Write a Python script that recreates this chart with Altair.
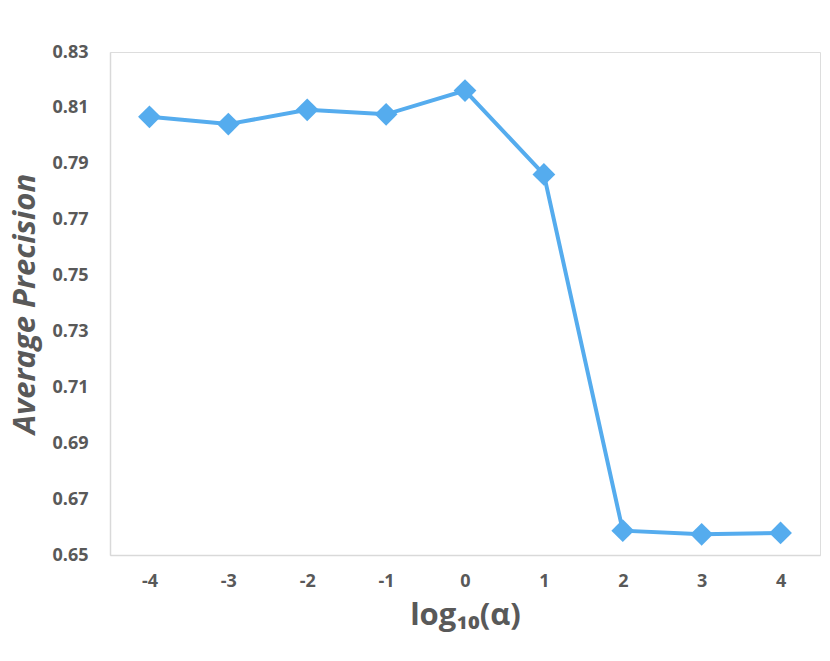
import altair as alt
import pandas as pd

x_labels = ["-4", "-3", "-2", "-1", "0", "1", "2", "3", "4"]
ap_values = [0.8068, 0.8042, 0.8093, 0.8077, 0.8162, 0.7862, 0.6587, 0.6574, 0.6579]
y_ticks = [0.65, 0.67, 0.69, 0.71, 0.73, 0.75, 0.77, 0.79, 0.81, 0.83]

df = pd.DataFrame({"x": x_labels, "ap": ap_values})

FONT = "Open Sans"
GRAY = "#595959"
BLUE = "#55ACEE"

x_enc = alt.X("x:O", sort=x_labels,
              scale=alt.Scale(type="point", padding=0.5),
              axis=alt.Axis(title="log₁₀(α)", labelAngle=0, ticks=False,
                            domainColor="#D9D9D9", domainWidth=1.5,
                            labelFont=FONT, labelFontSize=18, labelFontWeight="bold",
                            labelColor=GRAY, labelPadding=17,
                            titleFont=FONT, titleFontSize=31, titleFontWeight="bold",
                            titleColor=GRAY, titlePadding=10))
y_enc = alt.Y("ap:Q", scale=alt.Scale(domain=[0.65, 0.83], nice=False, zero=False),
              axis=alt.Axis(title="Average Precision", values=y_ticks, format=".2f",
                            grid=False, ticks=False,
                            domainColor="#D9D9D9", domainWidth=1.5,
                            labelFont=FONT, labelFontSize=18, labelFontWeight="bold",
                            labelColor=GRAY, labelPadding=22,
                            titleFont=FONT, titleFontSize=31, titleFontWeight="bold",
                            titleFontStyle="italic", titleColor=GRAY, titlePadding=10))

line = alt.Chart(df).mark_line(color=BLUE, strokeWidth=4).encode(x=x_enc, y=y_enc)
pts = alt.Chart(df).mark_point(shape="diamond", filled=True, color=BLUE, size=520, opacity=1).encode(x=x_enc, y=y_enc)

chart = (line + pts).properties(
    width=710, height=503,
    autosize=alt.AutoSizeParams(type="none"),
    padding={"left": 102, "top": 44, "right": 2, "bottom": 98},
).configure_view(stroke=None).configure(background="white")

chart.save("out.html", embed_options={"renderer": "svg", "actions": False})
